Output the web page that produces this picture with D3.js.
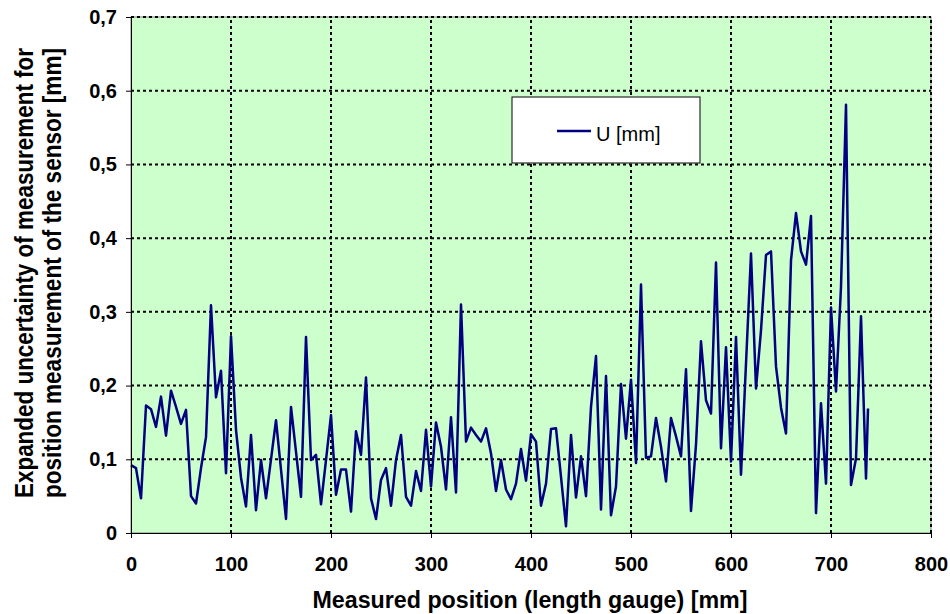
<!DOCTYPE html>
<html>
<head>
<meta charset="utf-8">
<script src="https://cdn.jsdelivr.net/npm/d3@7"></script>
<style>
  body { margin: 0; background: #fff; }
  svg text { font-family: "Liberation Sans", Arial, sans-serif; }
</style>
</head>
<body>
<div id="chart"></div>
<script>
// measured positions [mm]
const positions = [
  0, 5, 10, 15, 20, 25, 30, 35, 40, 45, 50, 55, 60, 65, 70, 75, 80, 85, 90, 95,
  100, 105, 110, 115, 120, 125, 130, 135, 140, 145, 150, 155, 160, 165, 170, 175, 180, 185, 190, 195,
  200, 205, 210, 215, 220, 225, 230, 235, 240, 245, 250, 255, 260, 265, 270, 275, 280, 285, 290, 295,
  300, 305, 310, 315, 320, 325, 330, 335, 340, 345, 350, 355, 360, 365, 370, 375, 380, 385, 390, 395,
  400, 405, 410, 415, 420, 425, 430, 435, 440, 445, 450, 455, 460, 465, 470, 475, 480, 485, 490, 495,
  500, 505, 510, 515, 520, 525, 530, 535, 540, 545, 550, 555, 560, 565, 570, 575, 580, 585, 590, 595,
  600, 605, 610, 615, 620, 625, 630, 635, 640, 645, 650, 655, 660, 665, 670, 675, 680, 685, 690, 695,
  700, 705, 710, 715, 720, 725, 730, 735, 737
];

// U [mm]
const uValues = [
  0.092, 0.088, 0.047, 0.173, 0.168, 0.144, 0.185, 0.132, 0.193, 0.171, 0.148, 0.167, 0.050, 0.040, 0.088, 0.130, 0.309, 0.184, 0.220, 0.081,
  0.267, 0.140, 0.075, 0.036, 0.133, 0.031, 0.099, 0.047, 0.100, 0.153, 0.086, 0.019, 0.171, 0.110, 0.049, 0.266, 0.099, 0.106, 0.039, 0.099,
  0.160, 0.052, 0.086, 0.086, 0.029, 0.138, 0.106, 0.211, 0.047, 0.019, 0.072, 0.088, 0.037, 0.099, 0.133, 0.049, 0.037, 0.084, 0.057, 0.140,
  0.063, 0.150, 0.117, 0.059, 0.157, 0.055, 0.310, 0.124, 0.143, 0.133, 0.124, 0.142, 0.108, 0.057, 0.099, 0.059, 0.046, 0.067, 0.114, 0.071,
  0.134, 0.124, 0.037, 0.067, 0.141, 0.142, 0.076, 0.009, 0.133, 0.048, 0.104, 0.050, 0.171, 0.240, 0.032, 0.213, 0.024, 0.063, 0.202, 0.128,
  0.208, 0.095, 0.337, 0.102, 0.104, 0.156, 0.117, 0.070, 0.156, 0.131, 0.104, 0.222, 0.030, 0.120, 0.260, 0.180, 0.162, 0.367, 0.115, 0.252,
  0.097, 0.266, 0.079, 0.230, 0.379, 0.196, 0.275, 0.377, 0.382, 0.226, 0.170, 0.135, 0.370, 0.434, 0.382, 0.364, 0.430, 0.027, 0.176, 0.067,
  0.306, 0.192, 0.334, 0.581, 0.065, 0.101, 0.294, 0.074, 0.169
];

const xTicks = [0, 100, 200, 300, 400, 500, 600, 700, 800];
const yTicks = [0, 0.1, 0.2, 0.3, 0.4, 0.5, 0.6, 0.7];

const seriesName = 'U [mm]';
const xTitle = 'Measured position (length gauge) [mm]';
const yTitle = ['Expanded uncertainty of measurement for', 'position measurement of the sensor [mm]'];

const width = 950;
const height = 614;
const margin = { top: 17, right: 19, bottom: 81, left: 131 };

const svg = d3.select('#chart').append('svg')
  .attr('width', width)
  .attr('height', height);

const x = d3.scaleLinear().domain([0, 800]).range([margin.left, width - margin.right]);
const y = d3.scaleLinear().domain([0, 0.7]).range([height - margin.bottom, margin.top]);

const fmt = d => d === 0 ? '0' : d3.format('.1f')(d).replace('.', ',');

// plot area
svg.append('rect')
  .attr('x', x(0)).attr('y', y(0.7))
  .attr('width', x(800) - x(0)).attr('height', y(0) - y(0.7))
  .attr('fill', '#ccffcc')
  .attr('stroke', '#808080');

// grid
const grid = svg.append('g').attr('class', 'grid')
  .attr('stroke', '#000')
  .attr('stroke-width', 2)
  .attr('stroke-dasharray', '3,3');

grid.selectAll('.gx')
  .data(xTicks.filter(d => d > 0))
  .enter().append('line')
  .attr('x1', d => x(d)).attr('x2', d => x(d))
  .attr('y1', y(0)).attr('y2', y(0.7));

grid.selectAll('.gy')
  .data(yTicks.filter(d => d > 0))
  .enter().append('line')
  .attr('x1', x(0)).attr('x2', x(800))
  .attr('y1', d => y(d)).attr('y2', d => y(d));

// series
const points = positions.map((p, i) => ({ p, u: uValues[i] }));

svg.append('path')
  .datum(points)
  .attr('fill', 'none')
  .attr('stroke', '#000080')
  .attr('stroke-width', 2.5)
  .attr('stroke-linejoin', 'round')
  .attr('d', d3.line().x(d => x(d.p)).y(d => y(d.u)));

// axes
const xAxis = svg.append('g')
  .attr('transform', `translate(0,${y(0)})`)
  .call(d3.axisBottom(x).tickValues(xTicks).tickSize(5).tickPadding(19).tickFormat(d3.format('d')));

const yAxis = svg.append('g')
  .attr('transform', `translate(${x(0)},0)`)
  .call(d3.axisLeft(y).tickValues(yTicks).tickSize(5).tickPadding(9).tickFormat(fmt));

[xAxis, yAxis].forEach(a => {
  a.select('.domain').attr('stroke', '#000');
  a.selectAll('.tick line').attr('stroke', '#000');
  a.selectAll('.tick text')
    .attr('fill', '#000')
    .style('font-size', '20px')
    .style('font-weight', 'bold');
});

// axis titles
svg.append('text')
  .attr('x', 530)
  .attr('y', 608)
  .attr('text-anchor', 'middle')
  .style('font-size', '23px')
  .style('font-weight', 'bold')
  .attr('textLength', 435)
  .attr('lengthAdjust', 'spacingAndGlyphs')
  .text(xTitle);

yTitle.forEach((t, i) => {
  svg.append('text')
    .attr('transform', `translate(${33 + i * 28},273) scale(1.1,1) rotate(-90)`)
    .attr('text-anchor', 'middle')
    .style('font-size', '23px')
    .style('font-weight', 'bold')
    .attr('textLength', 450)
    .attr('lengthAdjust', 'spacingAndGlyphs')
    .text(t);
});

// legend
const legend = svg.append('g').attr('transform', 'translate(512,97)');

legend.append('rect')
  .attr('width', 188).attr('height', 66)
  .attr('fill', '#fff')
  .attr('stroke', '#000');

legend.append('line')
  .attr('x1', 45).attr('x2', 79)
  .attr('y1', 34).attr('y2', 34)
  .attr('stroke', '#000080')
  .attr('stroke-width', 2.5);

legend.append('text')
  .attr('x', 84).attr('y', 44)
  .style('font-size', '20px')
  .text(seriesName);
</script>
</body>
</html>
